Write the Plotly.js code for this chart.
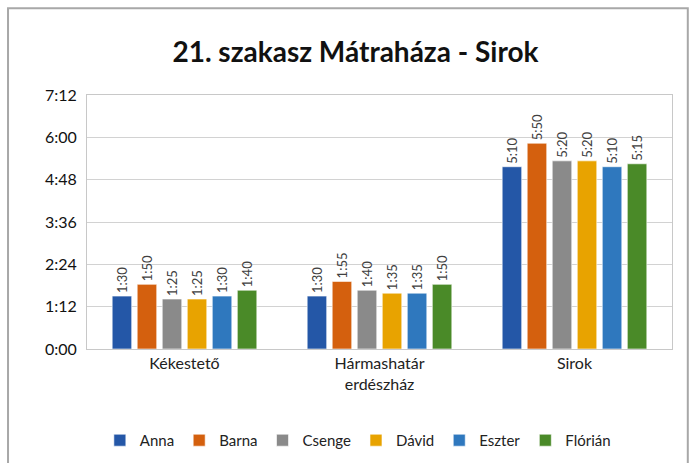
<!DOCTYPE html>
<html><head><meta charset="utf-8">
<script src="https://cdn.plot.ly/plotly-3.0.1.min.js"></script>
<style>html,body{margin:0;padding:0;background:#fff}#c{width:697px;height:463px}</style>
</head><body><div id="c"></div>
<script>
const categories = ["Kékestető", "Hármashatár<br>erdészház", "Sirok"];
const names = ["Anna", "Barna", "Csenge", "Dávid", "Eszter", "Flórián"];
const labels = {
  Anna:    ["1:30", "1:30", "5:10"],
  Barna:   ["1:50", "1:55", "5:50"],
  Csenge:  ["1:25", "1:40", "5:20"],
  Dávid:   ["1:25", "1:35", "5:20"],
  Eszter:  ["1:30", "1:35", "5:10"],
  Flórián: ["1:40", "1:50", "5:15"]
};
const colors = ["#2457a7", "#d4600e", "#8a8a8a", "#e8a300", "#2f78be", "#4a8a28"];
const tickVals = [0, 72, 144, 216, 288, 360, 432];
const tickText = ["0:00", "1:12", "2:24", "3:36", "4:48", "6:00", "7:12"];

function toMin(s){ const p = s.split(":"); return (+p[0])*60 + (+p[1]); }

const traces = names.map((n, i) => ({
  type: "bar",
  name: n,
  x: categories,
  y: labels[n].map(toMin),
  text: labels[n],
  textposition: "outside",
  textangle: -90,
  constraintext: "none",
  cliponaxis: false,
  textfont: {family: "Lato, 'Open Sans', sans-serif", size: 13, color: "#404040"},
  marker: {color: colors[i], line: {color: "rgba(255,255,255,0.6)", width: 1}},
  hoverinfo: "skip"
}));

const layout = {
  width: 697, height: 463,
  margin: {l: 87, r: 25, t: 95, b: 114, autoexpand: false},
  paper_bgcolor: "#fff", plot_bgcolor: "#fff",
  barmode: "group", bargap: 0.23, bargroupgap: 0.22,
  title: {text: "<b>21. szakasz Mátraháza - Sirok</b>", x: 0.51, xanchor: "center", y: 0.888, yanchor: "middle",
          font: {family: "Lato, 'Open Sans', sans-serif", size: 28, color: "#111"}},
  font: {family: "Lato, 'Open Sans', sans-serif", color: "#222"},
  xaxis: {type: "category", tickfont: {size: 16, color: "#222"}, showline: true, linecolor: "#c8c8c8",
          mirror: true, ticks: "", showgrid: false, automargin: false},
  yaxis: {range: [0, 432], tickvals: tickVals, ticktext: tickText, tickfont: {size: 16, color: "#111"},
          gridcolor: "#d2d2d2", showline: true, linecolor: "#c8c8c8", mirror: true, zeroline: false,
          ticklabelstandoff: 6, automargin: false},
  legend: {orientation: "h", x: 0.463, xanchor: "center", y: -0.36, yanchor: "middle",
           font: {size: 15, color: "#222"}, itemwidth: 30, tracegroupgap: 0},
  shapes: [{type: "rect", xref: "paper", yref: "paper", x0: -0.135, x1: 1.027, y0: -0.5, y1: 1.342,
            line: {color: "#a8a8a8", width: 2}}],
  showlegend: true
};
Plotly.newPlot("c", traces, layout, {staticPlot: true});
</script></body></html>
